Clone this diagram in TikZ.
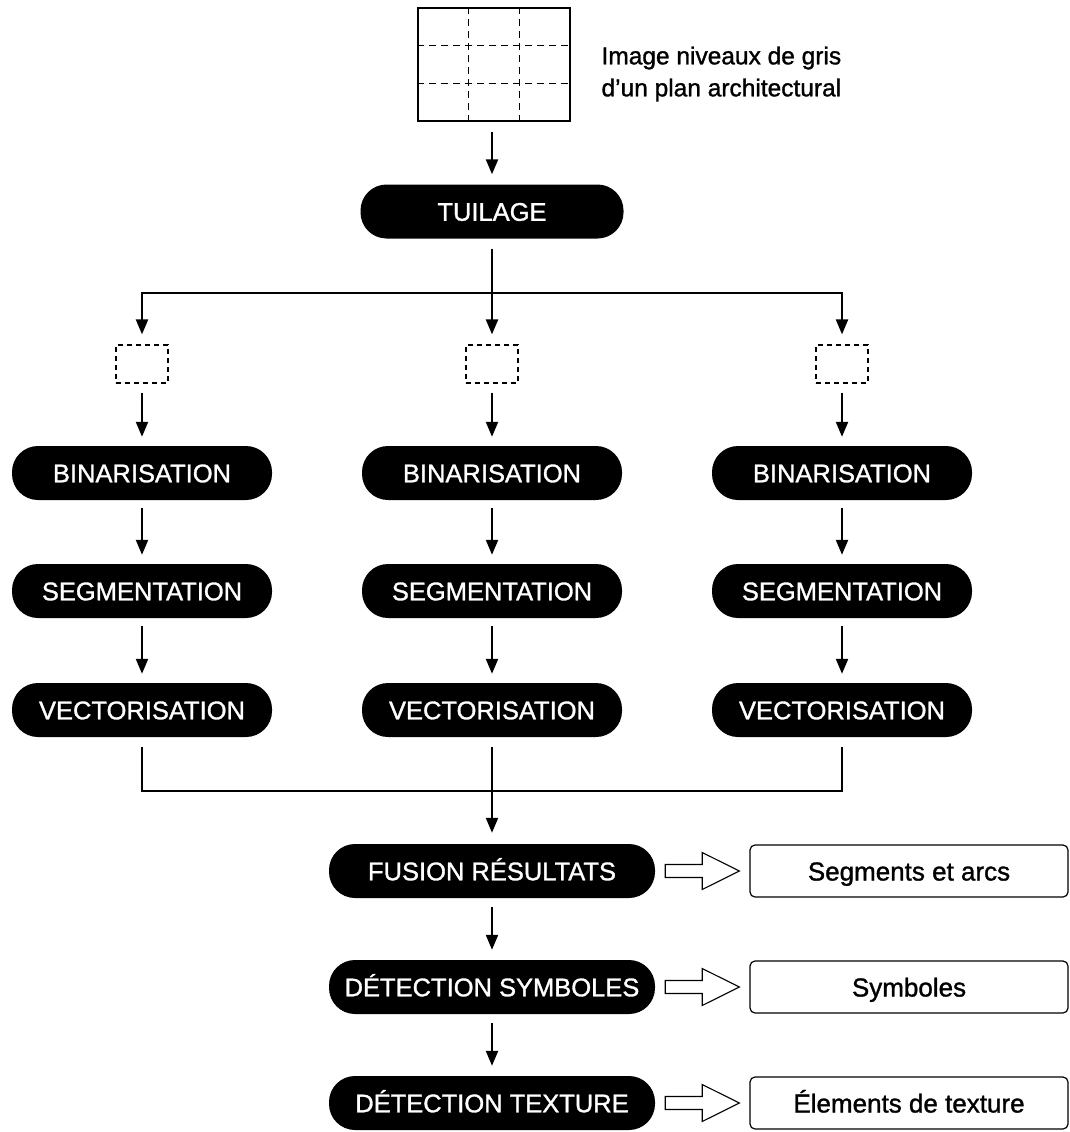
\documentclass[tikz,border=0pt]{standalone}
\usepackage{fontspec}
\setmainfont{Liberation Sans}
\newfontfamily\boxfont[FakeBold=1.2]{Liberation Sans}
\usetikzlibrary{arrows.meta,calc}
\tikzset{
  lbl/.style={font=\boxfont\fontsize{24.5}{32}\selectfont},
  proc/.style={font=\boxfont\fontsize{25.5}{30}\selectfont, fill=black, text=white, rounded corners=26pt, minimum height=54pt, inner sep=0pt, text height=18.5pt, text depth=0pt},
  res/.style={font=\boxfont\fontsize{26}{30}\selectfont, draw, line width=1.2pt, rounded corners=5pt, minimum width=318pt, minimum height=52pt, inner sep=0pt, text height=19pt, text depth=0pt},
  tile/.style={draw, line width=1.2pt, dash pattern=on 5pt off 4pt, minimum width=52pt, minimum height=38pt, inner sep=0pt},
  conn/.style={line width=2.2pt},
  arr/.style={conn, -{Triangle[length=15pt,width=12pt]}},
  hollow/.style={draw, line width=1.1pt, fill=white, line join=miter},
}
\newcommand{\hollowarrow}[2]{%
  \draw[hollow] ($(#1.east)+(10,-6.5)$) -- ++(37,0) -- ++(0,-12) -- ($(#2.west)+(-10,0)$)
    -- ($(#1.east)+(47,18.5)$) -- ++(0,-12) -- ($(#1.east)+(10,6.5)$) -- cycle;}
\begin{document}
\begin{tikzpicture}[x=1pt,y=-1pt]
\useasboundingbox (0,0) rectangle (1070,1132);
% grid image
\node[draw, line width=1.6pt, minimum width=152pt, minimum height=113pt, inner sep=0pt] (grid) at (494,64.5) {};
\draw[line width=1.7pt, dash pattern=on 7pt off 5pt]
  ($(grid.north west)!1/3!(grid.north east)$) -- ($(grid.south west)!1/3!(grid.south east)$)
  ($(grid.north west)!2/3!(grid.north east)$) -- ($(grid.south west)!2/3!(grid.south east)$)
  ($(grid.north west)!1/3!(grid.south west)$) -- ($(grid.north east)!1/3!(grid.south east)$)
  ($(grid.north west)!2/3!(grid.south west)$) -- ($(grid.north east)!2/3!(grid.south east)$);
\node[lbl, anchor=west, align=left] (title) at (598,74) {Image niveaux de gris\\d’un plan architectural};

\node[proc, minimum width=263pt] (tuil) at (492,211.5) {TUILAGE};
\coordinate (j) at (492,293);
\coordinate (jl) at (142,293);
\coordinate (jr) at (842,293);

\foreach \n/\x in {1/142,2/492,3/842}{
  \node[tile] (d\n) at (\x,364) {};
  \node[proc, minimum width=260pt] (b\n) at (\x,473) {BINARISATION};
  \node[proc, minimum width=260pt] (s\n) at (\x,591) {SEGMENTATION};
  \node[proc, minimum width=260pt] (v\n) at (\x,710) {VECTORISATION};
  \coordinate (e\n) at (\x,791);
}

\node[proc, minimum width=326pt] (fus) at (492,871) {FUSION RÉSULTATS};
\node[proc, minimum width=326pt] (sym) at (492,987) {DÉTECTION SYMBOLES};
\node[proc, minimum width=326pt] (tex) at (492,1103) {DÉTECTION TEXTURE};

\node[res] (r1) at (909,871) {Segments et arcs};
\node[res] (r2) at (909,987) {Symboles};
\node[res] (r3) at (909,1103) {Élements de texture};

% connectors
\draw[arr, shorten <=10pt, shorten >=10pt] (grid.south -| tuil.north) -- (tuil.north);
\draw[conn, shorten <=10pt] (tuil.south) -- (j);
\draw[conn, line cap=rect] (jl) -- (jr);
\draw[arr, shorten >=10pt] (jl) -- (d1.north);
\draw[arr, shorten >=10pt] (j) -- (d2.north);
\draw[arr, shorten >=10pt] (jr) -- (d3.north);
\foreach \n in {1,2,3}{
  \draw[arr, shorten <=9pt, shorten >=9pt] (d\n.south) -- (b\n.north);
  \draw[arr, shorten <=8pt, shorten >=9pt] (b\n.south) -- (s\n.north);
  \draw[arr, shorten <=8pt, shorten >=9pt] (s\n.south) -- (v\n.north);
  \draw[conn, shorten <=10pt] (v\n.south) -- (e\n);
}
\draw[conn, line cap=rect] (e1) -- (e3);
\draw[arr, shorten >=11pt] (e2) -- (fus.north);
\draw[arr, shorten <=9pt, shorten >=10pt] (fus.south) -- (sym.north);
\draw[arr, shorten <=9pt, shorten >=10pt] (sym.south) -- (tex.north);

\hollowarrow{fus}{r1}
\hollowarrow{sym}{r2}
\hollowarrow{tex}{r3}
\end{tikzpicture}
\end{document}
